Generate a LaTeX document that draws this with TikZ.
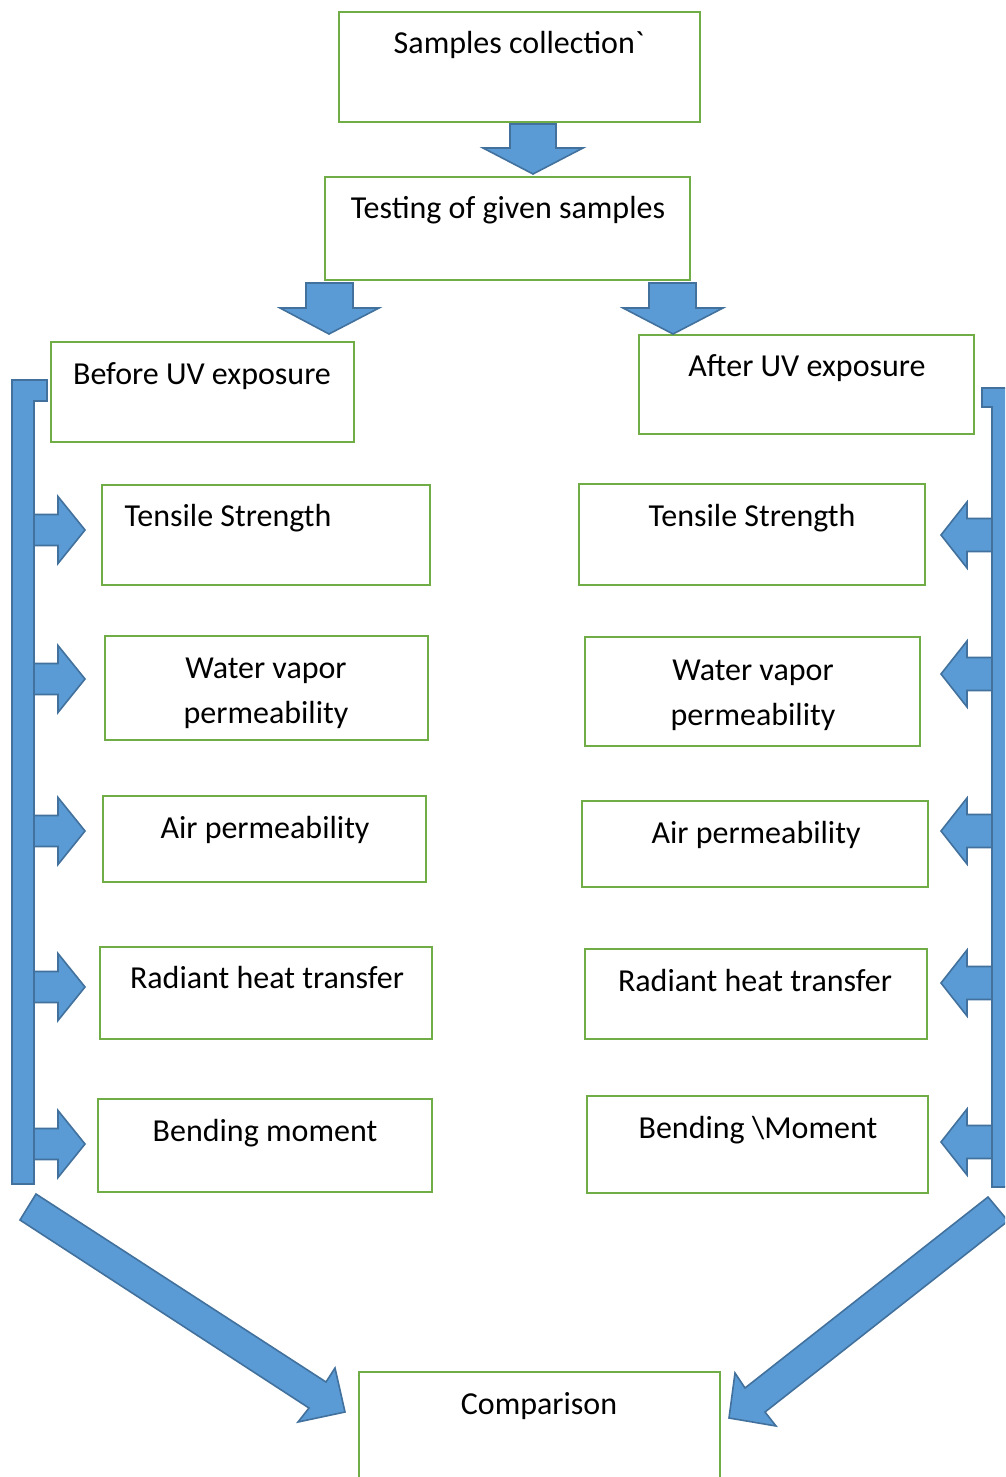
\documentclass[tikz,border=0pt]{standalone}
\usepackage{fontspec}
\setmainfont{Carlito}
\definecolor{boxgreen}{HTML}{70AD47}
\definecolor{arrfill}{HTML}{5B9BD5}
\definecolor{arrline}{HTML}{41719C}
\begin{document}
\begin{tikzpicture}[x=1pt,y=-1pt,
  box/.style={draw=boxgreen,line width=2.5pt,fill=white,rectangle,inner sep=0pt},
  txt/.style={font=\fontsize{32}{45}\selectfont,inner sep=0pt,align=center,anchor=base},
  blk/.style={fill=arrfill,draw=arrline,line width=1.6pt,line join=miter}]
\useasboundingbox (0,0) rectangle (1005,1477);
\clip (0,0) rectangle (1005,1477);
\fill[white] (0,0) rectangle (1005,1477);
% boxes
\node[box,minimum width=361pt,minimum height=110pt] (samples) at (519.5,67) {};
\node[box,minimum width=365pt,minimum height=103pt] (testing) at (507.5,228.5) {};
\node[box,minimum width=303pt,minimum height=100pt] (before) at (202.5,392) {};
\node[box,minimum width=335pt,minimum height=99pt] (after) at (806.5,384.5) {};
\node[box,minimum width=328pt,minimum height=100pt] (tsL) at (266,535) {};
\node[box,minimum width=323pt,minimum height=104pt] (wvL) at (266.5,688) {};
\node[box,minimum width=323pt,minimum height=86pt] (apL) at (264.5,839) {};
\node[box,minimum width=332pt,minimum height=92pt] (rhL) at (266,993) {};
\node[box,minimum width=334pt,minimum height=93pt] (bmL) at (265,1145.5) {};
\node[box,minimum width=346pt,minimum height=101pt] (tsR) at (752,534.5) {};
\node[box,minimum width=335pt,minimum height=109pt] (wvR) at (752.5,691.5) {};
\node[box,minimum width=346pt,minimum height=86pt] (apR) at (755,844) {};
\node[box,minimum width=342pt,minimum height=90pt] (rhR) at (756,994) {};
\node[box,minimum width=341pt,minimum height=97pt] (bmR) at (757.5,1144.5) {};
\node[box,minimum width=361pt,minimum height=140pt] (comp) at (539.5,1442) {};
% texts
\node[txt] (samplesT) at (519,54) {Samples collection\textasciigrave};
\node[txt] (testingT) at (508,218) {Testing of given samples};
\node[txt] (beforeT) at (202,384) {Before UV exposure};
\node[txt] (afterT) at (807,376) {After UV exposure};
\node[txt] (tsLT) at (228,526) {Tensile Strength};
\node[txt] (wvLT) at (266,723) {Water vapor\\permeability};
\node[txt] (apLT) at (265,838) {Air permeability};
\node[txt] (rhLT) at (267,988) {Radiant heat transfer};
\node[txt] (bmLT) at (265,1141) {Bending moment};
\node[txt] (tsRT) at (752,526) {Tensile Strength};
\node[txt] (wvRT) at (753,725) {Water vapor\\permeability};
\node[txt] (apRT) at (756,843) {Air permeability};
\node[txt] (rhRT) at (755,991) {Radiant heat transfer};
\node[txt] (bmRT) at (758,1138) {Bending \textbackslash Moment};
\node[txt] (compT) at (539,1414) {Comparison};
% down arrows
\filldraw[blk] (510,124) -- (556,124) -- (556,148) -- (583,148) -- (533,174) -- (483,148) -- (510,148) -- cycle;
\filldraw[blk] (306,283) -- (353,283) -- (353,308) -- (379,308) -- (329,334) -- (280,308) -- (306,308) -- cycle;
\filldraw[blk] (649,283) -- (696,283) -- (696,308) -- (723,308) -- (673,334) -- (623,308) -- (649,308) -- cycle;
% left bracket and arrows
\foreach \c in {530,679,831,987,1144}{
  \filldraw[blk] (33,\c-15.5) -- (58,\c-15.5) -- (58,\c-33.5) -- (85,\c) -- (58,\c+33.5) -- (58,\c+15.5) -- (33,\c+15.5) -- cycle;
}
\filldraw[blk] (12,380) -- (47,380) -- (47,401) -- (34,401) -- (34,1184) -- (12,1184) -- cycle;
% right bracket and arrows
\foreach \c in {535,674,831,983,1142}{
  \filldraw[blk] (993,\c-16.5) -- (967,\c-16.5) -- (967,\c-33) -- (941,\c) -- (967,\c+33) -- (967,\c+16.5) -- (993,\c+16.5) -- cycle;
}
\filldraw[blk] (982,388) -- (1015,388) -- (1015,1187) -- (992,1187) -- (992,407) -- (982,407) -- cycle;
% diagonal arrows
\filldraw[blk] (36,1194) -- (326,1382) -- (335,1368) -- (345,1412) -- (298,1422) -- (309,1408) -- (20,1220) -- cycle;
\filldraw[blk] (988,1197) -- (745,1388) -- (735,1373) -- (729,1418) -- (776,1426) -- (765,1412) -- (1008,1221) -- cycle;
\end{tikzpicture}
\end{document}
